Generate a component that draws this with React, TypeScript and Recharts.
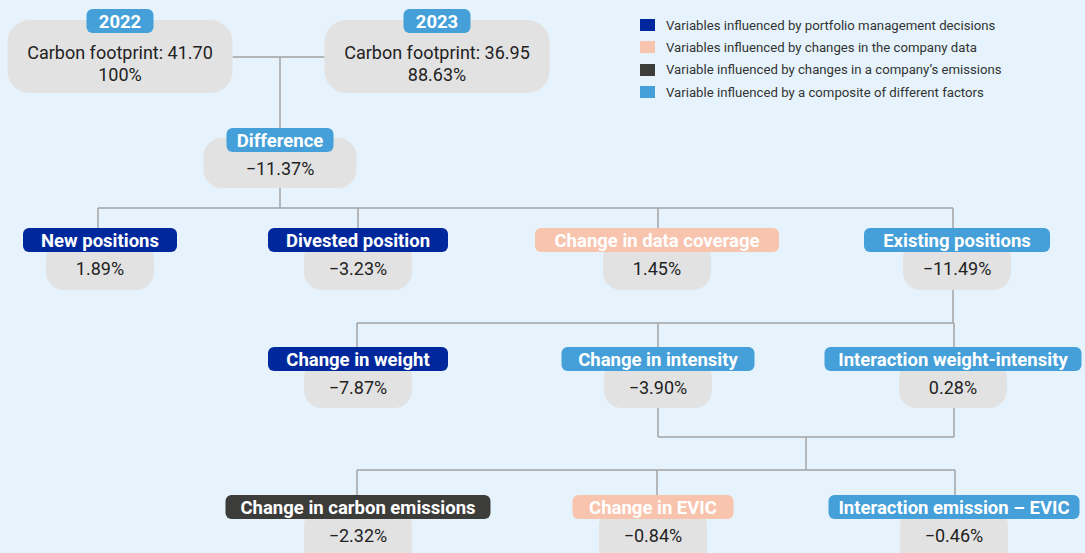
import { Legend, ReferenceLine, Scatter, ScatterChart, XAxis, YAxis } from "recharts";

const W = 1085;
const H = 553;

// --- data ---------------------------------------------------------------
const nodeIds = [
  "y2022", "y2023", "diff",
  "newPos", "divested", "coverage", "existing",
  "weight", "intensity", "interWI",
  "emissions", "evic", "interEE",
];
const nodeTitles = [
  "2022", "2023", "Difference",
  "New positions", "Divested position", "Change in data coverage", "Existing positions",
  "Change in weight", "Change in intensity", "Interaction weight-intensity",
  "Change in carbon emissions", "Change in EVIC", "Interaction emission – EVIC",
];
const nodeValues = [100, 88.63, -11.37, 1.89, -3.23, 1.45, -11.49, -7.87, -3.9, 0.28, -2.32, -0.84, -0.46];
const footprints = [41.7, 36.95, null, null, null, null, null, null, null, null, null, null, null];
const nodeKinds = [
  "composite", "composite", "composite",
  "portfolio", "portfolio", "data", "composite",
  "portfolio", "composite", "composite",
  "emissions", "data", "composite",
];

const legendKinds = ["portfolio", "data", "emissions", "composite"];
const legendLabels = [
  "Variables influenced by portfolio management decisions",
  "Variables influenced by changes in the company data",
  "Variable influenced by changes in a company’s emissions",
  "Variable influenced by a composite of different factors",
];

// tree topology
const links = [
  { parents: ["y2022", "y2023"], children: ["diff"] },
  { parents: ["diff"], children: ["newPos", "divested", "coverage", "existing"] },
  { parents: ["existing"], children: ["weight", "intensity", "interWI"] },
  { parents: ["intensity", "interWI"], children: ["emissions", "evic", "interEE"] },
];

// --- layout (pixels) -------------------------------------------------------
const kindColors: Record<string, string> = {
  portfolio: "#00289c",
  data: "#f8c4ae",
  emissions: "#3c3c3b",
  composite: "#459fd9",
};

type Box = { cx: number; pillTop: number; pillW: number; boxW: number; boxTop: number; boxBottom: number };
const layout: Record<string, Box> = {
  y2022: { cx: 120, pillTop: 9, pillW: 67, boxW: 225, boxTop: 20, boxBottom: 93 },
  y2023: { cx: 437, pillTop: 9, pillW: 67, boxW: 225, boxTop: 20, boxBottom: 93 },
  diff: { cx: 280, pillTop: 128, pillW: 107, boxW: 153, boxTop: 138, boxBottom: 188 },
  newPos: { cx: 100, pillTop: 228, pillW: 154, boxW: 108, boxTop: 240, boxBottom: 290 },
  divested: { cx: 358, pillTop: 228, pillW: 180, boxW: 108, boxTop: 240, boxBottom: 290 },
  coverage: { cx: 657, pillTop: 228, pillW: 244, boxW: 108, boxTop: 240, boxBottom: 290 },
  existing: { cx: 957, pillTop: 228, pillW: 186, boxW: 108, boxTop: 240, boxBottom: 290 },
  weight: { cx: 358, pillTop: 347, pillW: 180, boxW: 108, boxTop: 360, boxBottom: 408 },
  intensity: { cx: 658, pillTop: 347, pillW: 193, boxW: 108, boxTop: 360, boxBottom: 408 },
  interWI: { cx: 953, pillTop: 347, pillW: 257, boxW: 108, boxTop: 360, boxBottom: 408 },
  emissions: { cx: 358, pillTop: 495, pillW: 265, boxW: 108, boxTop: 508, boxBottom: 575 },
  evic: { cx: 653, pillTop: 495, pillW: 161, boxW: 108, boxTop: 508, boxBottom: 575 },
  interEE: { cx: 954, pillTop: 495, pillW: 251, boxW: 108, boxTop: 508, boxBottom: 575 },
};
const busY = [57, 208, 323, 470];
const joinY = [0, 0, 0, 437];
const linkX: Record<string, number> = { diff: 280, newPos: 98, divested: 358, coverage: 658, existing: 953, weight: 357, intensity: 658, interWI: 954, emissions: 357, evic: 657, interEE: 955 };

const PILL_H = 24;
const FONT = "Roboto, 'Noto Sans', sans-serif";
const LINE = "#a3a3a3";

function fmtPct(v: number) {
  const a = Math.abs(v);
  return (v < 0 ? "\u2212" : "") + (Number.isInteger(a) ? String(a) : a.toFixed(2)) + "%";
}

const nodes = nodeIds.map((id, i) => ({
  id,
  title: nodeTitles[i],
  value: nodeValues[i],
  footprint: footprints[i],
  kind: nodeKinds[i],
  x: layout[id].cx,
  y: layout[id].pillTop,
}));

type Seg = [{ x: number; y: number }, { x: number; y: number }];
function buildSegments(): Seg[] {
  const segs: Seg[] = [];
  links.forEach((link, li) => {
    const ps = link.parents.map((p) => layout[p]);
    if (li === 0) {
      // side-by-side parents joined at mid height
      const y = busY[0];
      segs.push([{ x: ps[0].cx + ps[0].boxW / 2, y }, { x: ps[1].cx - ps[1].boxW / 2, y }]);
      const c = link.children[0];
      segs.push([{ x: linkX[c], y }, { x: linkX[c], y: layout[c].pillTop }]);
      return;
    }
    const by = busY[li];
    let stemX: number;
    if (ps.length > 1) {
      const jy = joinY[li];
      const xs = link.parents.map((p) => linkX[p]);
      link.parents.forEach((p) => segs.push([{ x: linkX[p], y: layout[p].boxBottom }, { x: linkX[p], y: jy }]));
      segs.push([{ x: Math.min(...xs), y: jy }, { x: Math.max(...xs), y: jy }]);
      stemX = (Math.min(...xs) + Math.max(...xs)) / 2;
      segs.push([{ x: stemX, y: jy }, { x: stemX, y: by }]);
    } else {
      const p = link.parents[0];
      stemX = linkX[p];
      segs.push([{ x: stemX, y: layout[p].boxBottom }, { x: stemX, y: by }]);
    }
    const cxs = link.children.map((c) => linkX[c]);
    segs.push([{ x: Math.min(...cxs), y: by }, { x: Math.max(...cxs), y: by }]);
    link.children.forEach((c) => segs.push([{ x: linkX[c], y: by }, { x: linkX[c], y: layout[c].pillTop }]));
  });
  return segs;
}
const segments = buildSegments();

function NodeShape(props: any) {
  const { cx, cy, payload } = props;
  const l = layout[payload.id];
  const boxTop = cy + (l.boxTop - l.pillTop);
  const boxBottom = cy + (l.boxBottom - l.pillTop);
  const pillBottom = cy + PILL_H;
  const isTop = payload.footprint != null;
  const r = isTop ? 22 : 18;
  return (
    <g>
      <rect x={cx - l.boxW / 2} y={boxTop} width={l.boxW} height={boxBottom - boxTop} rx={r} ry={r} fill="#e2e2e2" />
      <rect x={cx - l.pillW / 2} y={cy} width={l.pillW} height={PILL_H} rx={6} ry={6} fill={kindColors[payload.kind]} />
      <text x={cx} y={cy + PILL_H / 2 + 1} textAnchor="middle" dominantBaseline="central" fill="#fff" fontFamily={FONT} fontWeight={700} fontSize={18.5}>
        {payload.title}
      </text>
      {isTop ? (
        <>
          <text x={cx} y={cy + 43} textAnchor="middle" dominantBaseline="central" fill="#222" fontFamily={FONT} fontSize={18}>
            {`Carbon footprint: ${payload.footprint.toFixed(2)}`}
          </text>
          <text x={cx} y={cy + 65} textAnchor="middle" dominantBaseline="central" fill="#222" fontFamily={FONT} fontSize={18}>
            {fmtPct(payload.value)}
          </text>
        </>
      ) : (
        <text
          x={cx}
          y={Math.min((pillBottom + boxBottom) / 2, cy + 40)}
          textAnchor="middle"
          dominantBaseline="central"
          fill="#222"
          fontFamily={FONT}
          fontSize={18}
        >
          {fmtPct(payload.value)}
        </text>
      )}
    </g>
  );
}

function LegendBox() {
  return (
    <div style={{ fontFamily: FONT, fontSize: 13.2, color: "#333" }}>
      {legendKinds.map((k, i) => (
        <div key={k} style={{ display: "flex", alignItems: "center", height: 22.3 }}>
          <span style={{ display: "inline-block", width: 15, height: 12, background: kindColors[k], marginRight: 11 }} />
          <span>{legendLabels[i]}</span>
        </div>
      ))}
    </div>
  );
}

export default function App() {
  return (
    <div style={{ position: "fixed", left: 0, top: 0, width: W, height: H, background: "#e6f3fc" }}>
      <ScatterChart width={W} height={H} margin={{ top: 0, right: 0, bottom: 0, left: 0 }}>
        <XAxis type="number" dataKey="x" domain={[0, W]} allowDataOverflow hide />
        <YAxis type="number" dataKey="y" domain={[0, H]} allowDataOverflow reversed hide />
        <Legend
          layout="vertical"
          align="center"
          verticalAlign="middle"
          wrapperStyle={{ top: 14, left: 640, width: 440 }}
          content={() => <LegendBox />}
        />
        {segments.map((s, i) => (
          <ReferenceLine key={i} segment={s} stroke={LINE} strokeWidth={1.5} ifOverflow="visible" />
        ))}
        <Scatter data={nodes} shape={NodeShape} isAnimationActive={false} />
      </ScatterChart>
    </div>
  );
}
